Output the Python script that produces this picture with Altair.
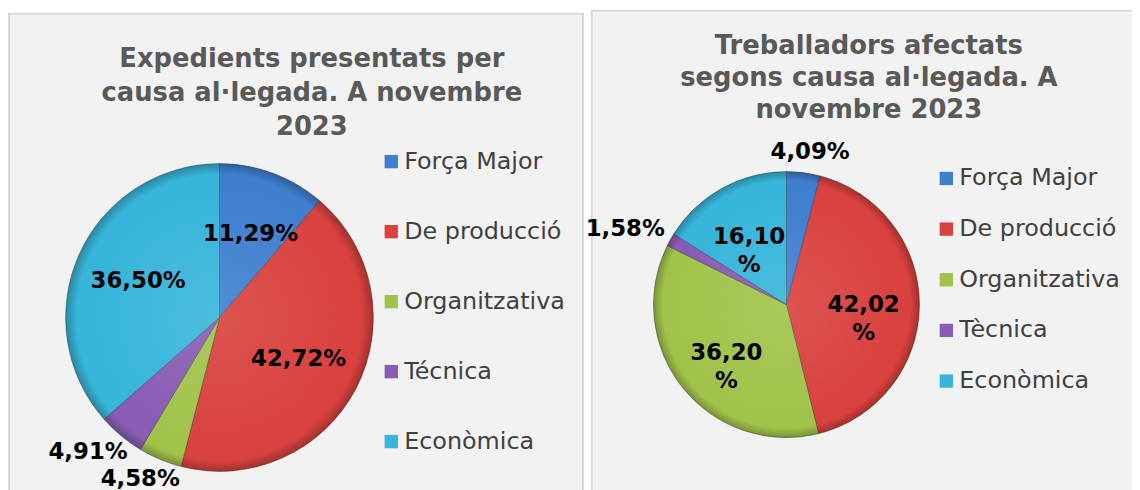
import altair as alt
import pandas as pd

# ---- data ----
cats_left = ["Força Major", "De producció", "Organitzativa", "Técnica", "Econòmica"]
vals_left = [11.29, 42.72, 4.58, 4.91, 36.50]
cats_right = ["Força Major", "De producció", "Organitzativa", "Tècnica", "Econòmica"]
vals_right = [4.09, 42.02, 36.20, 1.58, 16.10]
colors = ["#3f7fd0", "#d9413e", "#a1c34a", "#8a5cb5", "#37b5da"]
title_left = ["Expedients presentats per", "causa al·legada. A novembre", "2023"]
title_right = ["Treballadors afectats", "segons causa al·legada. A", "novembre 2023"]


def fmt(v):
    return f"{v:.2f}".replace(".", ",")


df_left = pd.DataFrame({"i": list(range(5)), "cat": cats_left, "value": vals_left})
df_left["label"] = [fmt(v) + "%" for v in vals_left]
df_right = pd.DataFrame({"i": list(range(5)), "cat": cats_right, "value": vals_right})
df_right["label"] = [fmt(v) + ("\n%" if v > 8 else "%") for v in vals_right]

FONT = "DejaVu Sans"
one = alt.Data(values=[{}])


def panel(x, x2, y, y2):
    return alt.Chart(one).mark_rect(
        fill="#f2f2f2", stroke="#d9d9d9", strokeWidth=2
    ).encode(x=alt.value(x), x2=alt.value(x2), y=alt.value(y), y2=alt.value(y2))


def title(lines, cx, ty, lh):
    return alt.Chart(one).mark_text(
        font=FONT, fontSize=26, fontWeight="bold", color="#595959",
        align="center", baseline="top", lineBreak="\n", lineHeight=lh,
    ).encode(x=alt.value(cx), y=alt.value(ty), text=alt.value("\n".join(lines)))


shade_grad = {
    "gradient": "radial",
    "x1": 0.5, "y1": 0.5, "r1": 0,
    "x2": 0.5, "y2": 0.5, "r2": 0.5,
    "stops": [
        {"offset": 0, "color": "rgba(255,255,255,0.10)"},
        {"offset": 0.86, "color": "rgba(255,255,255,0.0)"},
        {"offset": 0.93, "color": "rgba(0,0,0,0.0)"},
        {"offset": 1, "color": "rgba(0,0,0,0.25)"},
    ],
}


def pie(df, cats, cx, cy, R, lx, ly, row_pad):
    base = alt.Chart(df)
    arcs = base.mark_arc(
        outerRadius=R, stroke="#222222", strokeOpacity=0.35, strokeWidth=1
    ).encode(
        theta=alt.Theta("value:Q", stack=True),
        order=alt.Order("i:Q"),
        x=alt.value(cx), y=alt.value(cy),
        color=alt.Color(
            "cat:N", sort=cats,
            scale=alt.Scale(domain=cats, range=colors),
            legend=alt.Legend(
                title=None, orient="none", legendX=lx, legendY=ly,
                symbolType="square", symbolSize=180, symbolStrokeWidth=0,
                symbolOpacity=1, labelFont=FONT, labelFontSize=24,
                labelColor="#404040", labelOffset=1, labelLimit=400,
                rowPadding=row_pad, padding=0,
            ),
        ),
    )
    shade = alt.Chart(one).mark_arc(
        theta=0, theta2=6.2832, outerRadius=R, fill=shade_grad
    ).encode(x=alt.value(cx), y=alt.value(cy))
    # label positions derived from each slice's mid angle
    labels = base.transform_window(
        cum="sum(value)", sort=[alt.SortField("i")], frame=[None, 0]
    ).transform_joinaggregate(
        total="sum(value)"
    ).transform_calculate(
        ang="(datum.cum - datum.value / 2) / datum.total * 2 * PI",
        inner="datum.value > 8",
    ).transform_calculate(
        px=f"datum.inner ? {cx} + {0.58 * R} * sin(datum.ang) : {cx} + {R + 8 + 44} * sin(datum.ang)",
        py=f"datum.inner ? {cy} - {0.58 * R} * cos(datum.ang) : {cy} - {R + 8} * cos(datum.ang) - 13 * cos(datum.ang)",
    ).mark_text(
        font=FONT, fontSize=23, fontWeight="bold", color="black",
        align="center", baseline="middle", lineBreak="\n", lineHeight=28,
    ).encode(
        x=alt.X("px:Q", scale=None),
        y=alt.Y("py:Q", scale=None),
        text="label:N",
    )
    return [arcs, shade, labels]


layers = [
    panel(1, 579, 4, 495),
    panel(588, 1145, 1, 495),
    title(title_left, 306, 37, 34),
    title(title_right, 867, 24, 32),
]
layers += pie(df_left, cats_left, 213, 310, 155, 374, 141, 46.5)
layers += pie(df_right, cats_right, 784, 297, 134, 933, 158, 27)

chart = alt.layer(*layers).resolve_scale(
    theta="independent", color="independent"
).properties(
    width=1132, height=482, padding=0, background="white",
    autosize=alt.AutoSizeParams(type="none"),
).configure_view(strokeWidth=0)

chart.save("out.html", embed_options={"renderer": "svg", "actions": False})
